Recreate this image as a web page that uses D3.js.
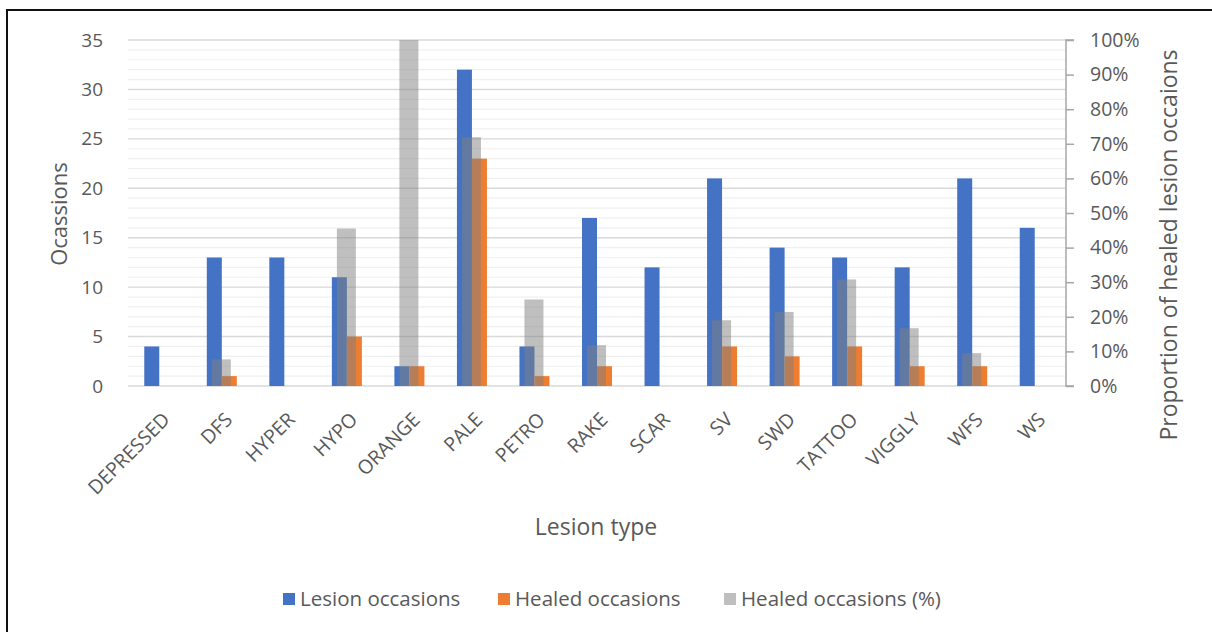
<!DOCTYPE html>
<html>
<head>
<meta charset="utf-8">
<script src="https://cdn.jsdelivr.net/npm/d3@7"></script>
<style>
  html, body { margin: 0; padding: 0; background: #fff; }
  svg { display: block; font-family: "Open Sans", "Noto Sans", sans-serif; }
</style>
</head>
<body>
<svg id="chart" width="1212" height="632"></svg>
<script>
// Lesion types on the category axis
const categories = ["DEPRESSED", "DFS", "HYPER", "HYPO", "ORANGE", "PALE", "PETRO", "RAKE",
                    "SCAR", "SV", "SWD", "TATTOO", "VIGGLY", "WFS", "WS"];
// Number of occasions each lesion type was recorded
const lesionOccasions = [4, 13, 13, 11, 2, 32, 4, 17, 12, 21, 14, 13, 12, 21, 16];
// Number of those occasions where the lesion had healed
const healedOccasions = [0, 1, 0, 5, 2, 23, 1, 2, 0, 4, 3, 4, 2, 2, 0];
// Healed share of occasions, in percent (secondary axis)
const healedPercent = [0, 7.7, 0, 45.5, 100, 71.9, 25, 11.8, 0, 19.0, 21.4, 30.8, 16.7, 9.5, 0];

const leftTicks = [0, 5, 10, 15, 20, 25, 30, 35];
const rightTicks = [0, 10, 20, 30, 40, 50, 60, 70, 80, 90, 100];

const seriesNames = ["Lesion occasions", "Healed occasions", "Healed occasions (%)"];
const seriesColors = ["#4472C4", "#ED7D31", "#BFBFBF"];

const svg = d3.select("#chart");
const plot = { left: 128, right: 1066, top: 40, bottom: 386 };

// Outer frame
svg.append("rect")
  .attr("x", 7).attr("y", 10).attr("width", 1230).attr("height", 660)
  .attr("fill", "none").attr("stroke", "#111").attr("stroke-width", 2);

const x = d3.scaleBand().domain(categories).range([plot.left, plot.right]).padding(0);
const y = d3.scaleLinear().domain([0, 35]).range([plot.bottom, plot.top]);
const y2 = d3.scaleLinear().domain([0, 100]).range([plot.bottom, plot.top]);

// Minor gridlines every unit, major every five
const minor = d3.range(0, 36).filter(v => v % 5 !== 0);
svg.append("g").selectAll("line").data(minor).join("line")
  .attr("x1", plot.left).attr("x2", plot.right)
  .attr("y1", d => y(d)).attr("y2", d => y(d))
  .attr("stroke", "#F0F0F0").attr("stroke-width", 1.2);
svg.append("g").selectAll("line").data(leftTicks.filter(v => v > 0)).join("line")
  .attr("x1", plot.left).attr("x2", plot.right)
  .attr("y1", d => y(d)).attr("y2", d => y(d))
  .attr("stroke", "#D9D9D9").attr("stroke-width", 1.4);

// Category axis line
svg.append("line")
  .attr("x1", plot.left).attr("x2", plot.right)
  .attr("y1", y(0)).attr("y2", y(0))
  .attr("stroke", "#D9D9D9").attr("stroke-width", 1.5);

// Primary bars: lesion occasions left of centre, healed occasions right of centre
const barW = 15;
const cx = d => x(d) + x.bandwidth() / 2;
svg.append("g").selectAll("rect").data(categories).join("rect")
  .attr("x", d => cx(d) - barW)
  .attr("width", barW)
  .attr("y", (d, i) => y(lesionOccasions[i]))
  .attr("height", (d, i) => y(0) - y(lesionOccasions[i]))
  .attr("fill", seriesColors[0]);
svg.append("g").selectAll("rect").data(categories).join("rect")
  .attr("x", d => cx(d))
  .attr("width", barW)
  .attr("y", (d, i) => y(healedOccasions[i]))
  .attr("height", (d, i) => y(0) - y(healedOccasions[i]))
  .attr("fill", seriesColors[1]);

// Secondary bars: healed percentage, translucent over the primary bars
const pctW = 19;
svg.append("g").selectAll("rect").data(categories).join("rect")
  .attr("x", d => cx(d) - pctW / 2 - 0.5)
  .attr("width", pctW)
  .attr("y", (d, i) => y2(healedPercent[i]))
  .attr("height", (d, i) => y2(0) - y2(healedPercent[i]))
  .attr("fill", "#808080").attr("fill-opacity", 0.5);

// Left axis labels
const tickColor = "#595959";
svg.append("g")
  .attr("transform", `translate(${plot.left},0)`)
  .call(d3.axisLeft(y).tickValues(leftTicks).tickSize(0).tickPadding(25))
  .call(g => g.select(".domain").remove())
  .selectAll("text")
  .attr("fill", tickColor).attr("font-size", 19)
  .attr("font-family", "'Open Sans', sans-serif");

// Right axis with ticks
const rAxis = svg.append("g")
  .attr("transform", `translate(${plot.right},0)`)
  .call(d3.axisRight(y2).tickValues(rightTicks).tickSize(8).tickPadding(16)
        .tickFormat(d => d + "%"));
rAxis.select(".domain").attr("stroke", "#A6A6A6").attr("stroke-width", 1.5)
  .attr("d", `M8,${plot.bottom}H0V${plot.top}H8`);
rAxis.selectAll(".tick line").attr("stroke", "#A6A6A6").attr("stroke-width", 1.5);
rAxis.selectAll("text")
  .attr("fill", tickColor).attr("font-size", 19.5)
  .attr("font-family", "'Open Sans', sans-serif");

// Category labels, rotated
svg.append("g").selectAll("text").data(categories).join("text")
  .attr("transform", d => `translate(${cx(d) + 7},${plot.bottom + 30}) rotate(-45)`)
  .attr("text-anchor", "end")
  .attr("dy", "0.35em")
  .attr("fill", tickColor).attr("font-size", 19.5)
  .text(d => d);

// Axis titles
svg.append("text")
  .attr("transform", `translate(67,214) rotate(-90)`)
  .attr("text-anchor", "middle")
  .attr("fill", tickColor).attr("font-size", 22)
  .text("Ocassions");
svg.append("text")
  .attr("transform", `translate(1177,245) rotate(-90)`)
  .attr("text-anchor", "middle")
  .attr("fill", tickColor).attr("font-size", 23)
  .text("Proportion of healed lesion occaions");
svg.append("text")
  .attr("x", 596).attr("y", 535)
  .attr("text-anchor", "middle")
  .attr("fill", tickColor).attr("font-size", 23)
  .text("Lesion type");

// Legend
const legendX = [283, 498, 724];
const legend = svg.append("g").selectAll("g").data(seriesNames).join("g")
  .attr("transform", (d, i) => `translate(${legendX[i]},593)`);
legend.append("rect")
  .attr("width", 12).attr("height", 12)
  .attr("fill", (d, i) => seriesColors[i]);
legend.append("text")
  .attr("x", 17).attr("y", 6).attr("dy", "0.35em")
  .attr("fill", tickColor).attr("font-size", 20.5)
  .text(d => d);
</script>
</body>
</html>
